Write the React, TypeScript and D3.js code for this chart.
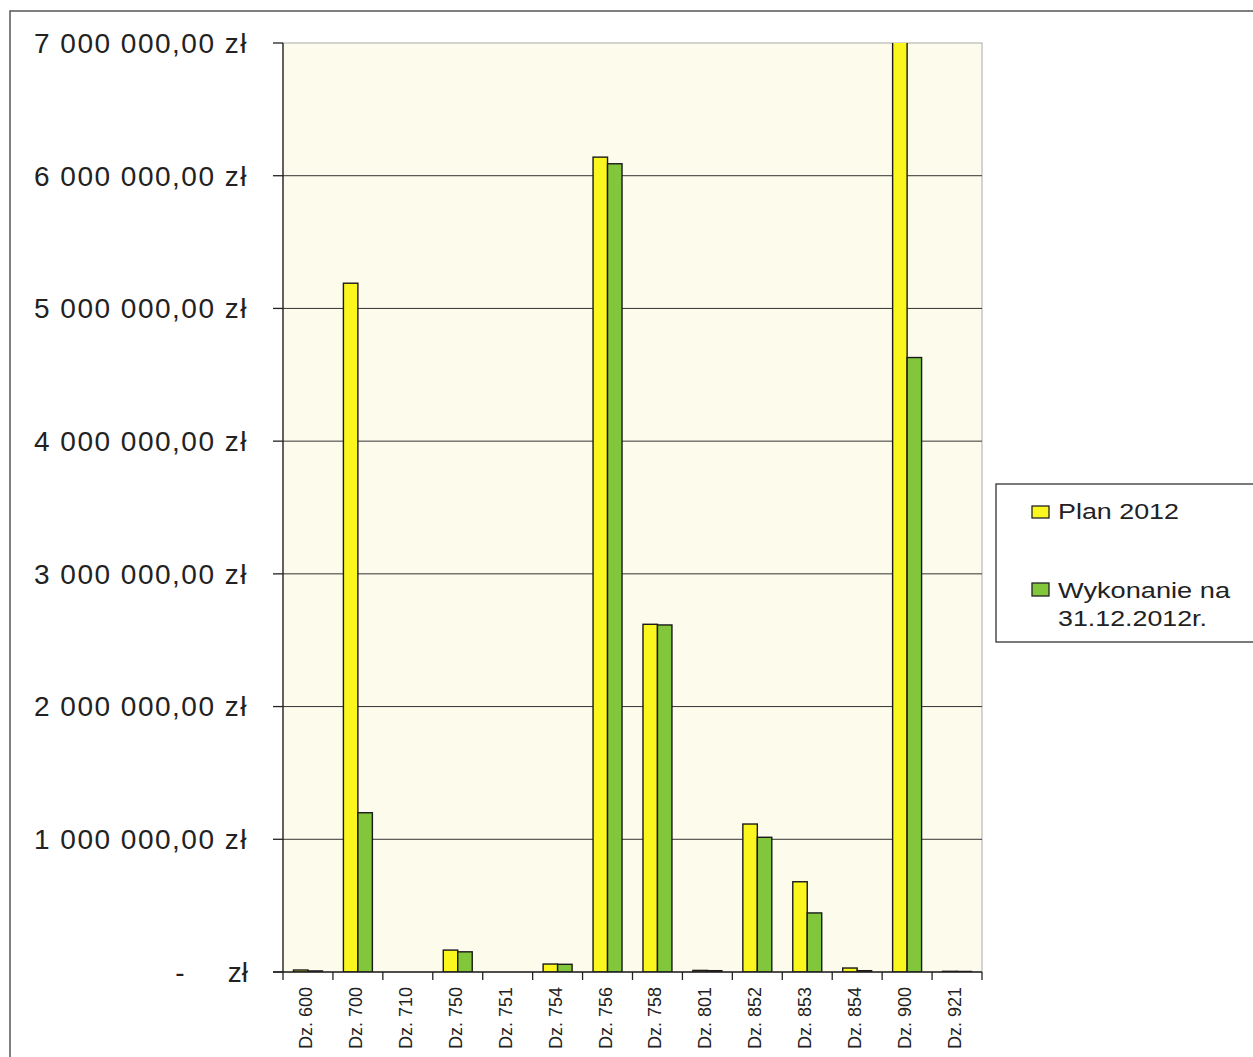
import React from "react";
import * as d3 from "d3";

// Budget chapters (działy) and the two compared series
const categories = [
  "Dz. 600", "Dz. 700", "Dz. 710", "Dz. 750", "Dz. 751", "Dz. 754", "Dz. 756",
  "Dz. 758", "Dz. 801", "Dz. 852", "Dz. 853", "Dz. 854", "Dz. 900", "Dz. 921",
];
const plan2012 = [
  15000, 5190000, 0, 165000, 0, 60000, 6140000,
  2620000, 12000, 1115000, 680000, 30000, 7300000, 5000,
];
const wykonanie2012 = [
  8000, 1200000, 0, 152000, 0, 58000, 6090000,
  2615000, 10000, 1015000, 445000, 10000, 4630000, 4000,
];
const seriesNames = ["Plan 2012", "Wykonanie na 31.12.2012r."];
const yTicks = [0, 1000000, 2000000, 3000000, 4000000, 5000000, 6000000, 7000000];

const W = 1253;
const H = 1057;
const plot = { left: 283, right: 982, top: 43, bottom: 972 };
const colors = ["#fbf61e", "#82c63c"];
const font = "'Liberation Sans', Arial, sans-serif";

const fmtMoney = (v: number) => {
  const s = d3.format(",.2f")(v).replace(/,/g, " ").replace(".", ",");
  return s + " zł";
};

export default function App() {
  const x = d3
    .scaleBand<string>()
    .domain(categories)
    .range([plot.left, plot.right])
    .paddingInner(0.42)
    .paddingOuter(0.21);
  const step = x.step();
  const xInner = d3.scaleBand<number>().domain([0, 1]).range([0, x.bandwidth()]);
  const y = d3.scaleLinear().domain([0, 7000000]).range([plot.bottom, plot.top]);

  const series = [plan2012, wykonanie2012];
  const boundaries = d3.range(categories.length + 1).map((i) => plot.left + i * step);

  return (
    <svg
      width={W}
      height={H}
      style={{ position: "absolute", left: 0, top: 0, background: "#ffffff" }}
      fontFamily={font}
    >
      <defs>
        <clipPath id="plotClip">
          <rect x={plot.left} y={plot.top} width={plot.right - plot.left} height={plot.bottom - plot.top} />
        </clipPath>
      </defs>

      {/* outer chart frame */}
      <rect x={10} y={11} width={W + 50} height={H + 50} fill="#ffffff" stroke="#555" strokeWidth={1.5} />

      {/* plot area */}
      <rect
        x={plot.left}
        y={plot.top}
        width={plot.right - plot.left}
        height={plot.bottom - plot.top}
        fill="#fdfbec"
        stroke="#aaa"
        strokeWidth={1}
      />

      {/* horizontal gridlines */}
      {yTicks.slice(1, -1).map((t) => (
        <line key={t} x1={plot.left} x2={plot.right} y1={y(t)} y2={y(t)} stroke="#333" strokeWidth={1} />
      ))}

      {/* bars */}
      <g clipPath="url(#plotClip)">
        {categories.map((c, i) =>
          series.map((s, j) => {
            const v = s[i];
            if (v <= 0) return null;
            const x0 = (x(c) as number) + (xInner(j) as number);
            return (
              <rect
                key={c + j}
                x={x0}
                y={y(v)}
                width={xInner.bandwidth()}
                height={plot.bottom - y(v)}
                fill={colors[j]}
                stroke="#1a1a1a"
                strokeWidth={1.4}
              />
            );
          })
        )}
      </g>

      {/* y axis */}
      <line x1={plot.left} x2={plot.left} y1={plot.top} y2={plot.bottom} stroke="#222" strokeWidth={1.3} />
      <line x1={plot.left - 10} x2={plot.right} y1={plot.bottom} y2={plot.bottom} stroke="#222" strokeWidth={1.3} />
      {yTicks.map((t) => (
        <g key={t}>
          <line x1={plot.left - 10} x2={plot.left} y1={y(t)} y2={y(t)} stroke="#222" strokeWidth={1.3} />
          {t === 0 ? (
            <>
              <text x={180} y={y(t)} dy="0.35em" fontSize={28} textAnchor="middle" fill="#222">-</text>
              <text x={248} y={y(t)} dy="0.35em" fontSize={28} textAnchor="end" fill="#222">zł</text>
            </>
          ) : (
            <text x={248} y={y(t)} dy="0.35em" fontSize={28} textAnchor="end" letterSpacing={1.5} fill="#222">
              {fmtMoney(t)}
            </text>
          )}
        </g>
      ))}

      {/* x axis ticks and labels */}
      {boundaries.map((b, i) => (
        <line key={i} x1={b} x2={b} y1={plot.bottom} y2={plot.bottom + 8} stroke="#222" strokeWidth={1.3} />
      ))}
      {categories.map((c) => {
        const cx = (x(c) as number) + x.bandwidth() / 2 + 4;
        return (
          <text
            key={c}
            transform={`translate(${cx},987) rotate(-90)`}
            textAnchor="end"
            fontSize={18}
            fill="#222"
          >
            {c}
          </text>
        );
      })}

      {/* legend */}
      <rect x={996} y={484} width={300} height={158} fill="#ffffff" stroke="#333" strokeWidth={1.3} />
      <rect x={1032} y={506} width={17} height={12} fill={colors[0]} stroke="#222" strokeWidth={1.3} />
      <text x={1058} y={519} fontSize={22} fill="#222" textLength={121} lengthAdjust="spacingAndGlyphs">
        {seriesNames[0]}
      </text>
      <rect x={1032} y={583} width={17} height={13} fill={colors[1]} stroke="#222" strokeWidth={1.3} />
      <text x={1058} y={598} fontSize={22} fill="#222" textLength={172} lengthAdjust="spacingAndGlyphs">
        Wykonanie na
      </text>
      <text x={1058} y={626} fontSize={22} fill="#222" textLength={149} lengthAdjust="spacingAndGlyphs">
        31.12.2012r.
      </text>
    </svg>
  );
}
